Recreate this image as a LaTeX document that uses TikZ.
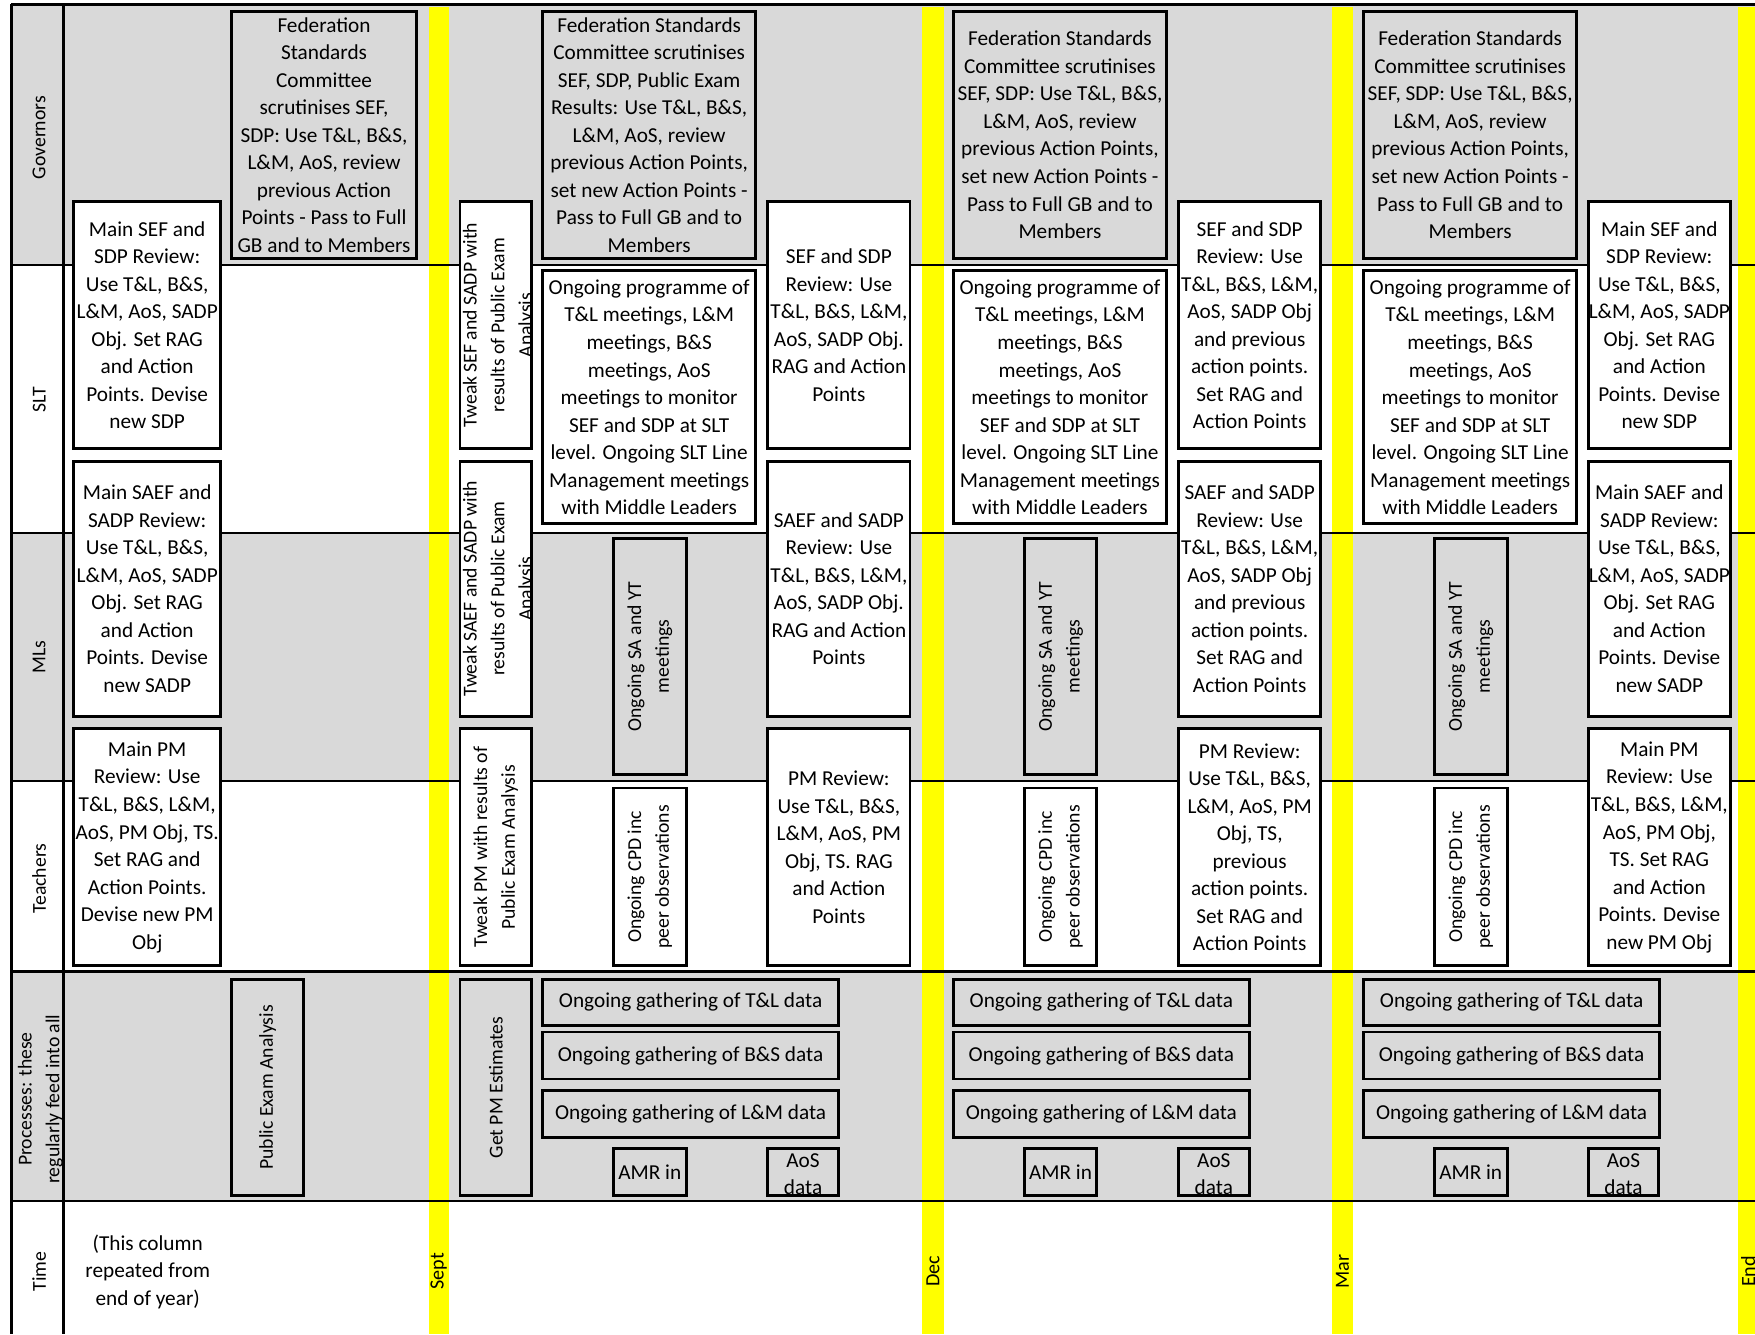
\documentclass[tikz,border=0pt]{standalone}
\usepackage{fontspec}
\setmainfont{Carlito}
\definecolor{rowgray}{RGB}{217,217,217}
\definecolor{bandyellow}{RGB}{255,255,0}
\newcommand\boxfont{\fontsize{9.5}{12.3}\selectfont}
\newcommand\sidefont{\fontsize{8.8}{12.4}\selectfont}
\begin{document}
\begin{tikzpicture}[x=0.5pt, y=-0.5pt,
  cell/.style={draw, line width=1.3pt, inner sep=0pt, align=center, font=\boxfont},
  whitecell/.style={cell, fill=white},
  graycell/.style={cell, fill=rowgray},
  sidecell/.style={rotate=90, font=\sidefont},
  fedbox/.style={graycell, minimum width=95pt, minimum height=110.5pt},
  progbox/.style={whitecell, minimum width=95pt, minimum height=113pt},
  revbox/.style={whitecell, minimum width=63.5pt},
  databox/.style={graycell, minimum width=132pt},
  sidetext/.style={rotate=90, align=center, inner sep=0pt, font=\sidefont},
  rowline/.style={line width=1pt},
  band/.style={fill=bandyellow}]
\useasboundingbox (0,0) rectangle (1568,1192);
% row shading
\fill[rowgray] (10,4) rectangle (1568,237);
\fill[rowgray] (10,476) rectangle (1568,698);
\fill[rowgray] (10,868) rectangle (1568,1073);
% month bands
\fill[band] (383,6) rectangle (401,1192);
\fill[band] (824,6) rectangle (843,1192);
\fill[band] (1190,6) rectangle (1209,1192);
\fill[band] (1553,6) rectangle (1575,1192);
% row labels
\node[sidetext] (lgov) at (35,123) {Governors};
\node[sidetext] (lslt) at (35,357) {SLT};
\node[sidetext] (lmls) at (35,587) {MLs};
\node[sidetext] (lteach) at (35,785) {Teachers};
\node[sidetext] (lproc) at (36,982) {Processes: these\\regularly feed into all};
\node[sidetext] (ltime) at (35,1136) {Time};
% grid
\draw[rowline] (10,4) -- (1568,4);
\draw[rowline] (10,237) -- (1568,237);
\draw[rowline] (10,476) -- (1568,476);
\draw[rowline] (10,698) -- (1568,698);
\draw[rowline] (10,868) -- (1568,868);
\draw[rowline] (10,1073) -- (1568,1073);
\draw[line width=1.2pt] (10,4) -- (10,1192);
\draw[line width=1.2pt] (57,4) -- (57,1192);
% time row
\node[align=center, font=\boxfont] (note) at (132,1136) {(This column\\repeated from\\end of year)};
\node[sidetext, font=\fontsize{9}{11}\selectfont] (msept) at (392,1136) {Sept};
\node[sidetext, font=\fontsize{9}{11}\selectfont] (mdec) at (833.5,1136) {Dec};
\node[sidetext, font=\fontsize{9}{11}\selectfont] (mmar) at (1199.5,1136) {Mar};
\node[sidetext, font=\fontsize{9}{11}\selectfont] (mend) at (1562,1136) {End};
% end of year column
\node[graycell, minimum width=82.5pt, minimum height=110.5pt] (fedA) at (289.5,120.5) {Federation\\Standards\\Committee\\scrutinises SEF,\\SDP: Use T\&L, B\&S,\\L\&M, AoS, review\\previous Action\\Points - Pass to Full\\GB and to Members};
\node[whitecell, minimum width=65.5pt, minimum height=110.5pt] (sefA) at (131.5,290.5) {Main SEF and\\SDP Review:\\Use T\&L, B\&S,\\L\&M, AoS, SADP\\Obj. Set RAG\\and Action\\Points. Devise\\new SDP};
\node[whitecell, minimum width=65.5pt, minimum height=114pt] (saefA) at (131.5,526) {Main SAEF and\\SADP Review:\\Use T\&L, B\&S,\\L\&M, AoS, SADP\\Obj. Set RAG\\and Action\\Points. Devise\\new SADP};
\node[whitecell, minimum width=65.5pt, minimum height=106pt] (pmA) at (131.5,757) {Main PM\\Review: Use\\T\&L, B\&S, L\&M,\\AoS, PM Obj, TS.\\Set RAG and\\Action Points.\\Devise new PM\\Obj};
\node[graycell, sidecell, minimum width=96.5pt, minimum height=32pt] (pubexam) at (239,971.5) {Public Exam Analysis};
% Sept to Dec
\node[whitecell, minimum width=32pt, minimum height=110.5pt,
  path picture={\node[sidetext] at ([xshift=1.5pt]path picture bounding box.center) {Tweak SEF and SADP with\\results of Public Exam\\Analysis};}] (tweaksef) at (443,290.5) {};
\node[whitecell, minimum width=32pt, minimum height=114pt,
  path picture={\node[sidetext] at ([xshift=1.5pt]path picture bounding box.center) {Tweak SAEF and SADP with\\results of Public Exam\\Analysis};}] (tweaksaef) at (443,526) {};
\node[whitecell, sidecell, minimum width=106pt, minimum height=32pt] (tweakpm) at (443,757) {Tweak PM with results of\\Public Exam Analysis};
\node[graycell, sidecell, minimum width=96.5pt, minimum height=32pt] (getpm) at (443,971.5) {Get PM Estimates};
\node[fedbox] (fedB) at (580,120.5) {Federation Standards\\Committee scrutinises\\SEF, SDP, Public Exam\\Results: Use T\&L, B\&S,\\L\&M, AoS, review\\previous Action Points,\\set new Action Points -\\Pass to Full GB and to\\Members};
\node[progbox] (progB) at (580,355) {Ongoing programme of\\T\&L meetings, L\&M\\meetings, B\&S\\meetings, AoS\\meetings to monitor\\SEF and SDP at SLT\\level. Ongoing SLT Line\\Management meetings\\with Middle Leaders};
\node[graycell, sidecell, minimum width=105.5pt, minimum height=32.5pt] (saytB) at (580.5,586.5) {Ongoing SA and YT\\meetings};
\node[whitecell, sidecell, minimum width=79.5pt, minimum height=32.5pt] (cpdB) at (580.5,783.5) {Ongoing CPD inc\\peer observations};
\node[revbox, minimum height=110.5pt] (sefB) at (749.5,290.5) {SEF and SDP\\Review: Use\\T\&L, B\&S, L\&M,\\AoS, SADP Obj.\\RAG and Action\\Points};
\node[revbox, minimum height=114pt] (saefB) at (749.5,526) {SAEF and SADP\\Review: Use\\T\&L, B\&S, L\&M,\\AoS, SADP Obj.\\RAG and Action\\Points};
\node[revbox, minimum height=106pt] (pmB) at (749.5,757) {PM Review:\\Use T\&L, B\&S,\\L\&M, AoS, PM\\Obj, TS. RAG\\and Action\\Points};
\node[databox, minimum height=20.5pt] (tlB) at (617,895.5) {Ongoing gathering of T\&L data};
\node[databox, minimum height=21pt] (bsB) at (617,943) {Ongoing gathering of B\&S data};
\node[databox, minimum height=21pt] (lmB) at (617,995) {Ongoing gathering of L\&M data};
\node[graycell, minimum width=32.5pt, minimum height=21pt] (amrB) at (580.5,1047) {AMR in};
\node[graycell, minimum width=31.5pt, minimum height=21pt,
  path picture={\node[align=center, inner sep=0pt, font=\boxfont] at ([yshift=-1pt]path picture bounding box.center) {AoS\\data};}] (aosB) at (717.5,1047) {};
% Dec to Mar
\node[fedbox] (fedC) at (947,120.5) {Federation Standards\\Committee scrutinises\\SEF, SDP: Use T\&L, B\&S,\\L\&M, AoS, review\\previous Action Points,\\set new Action Points -\\Pass to Full GB and to\\Members};
\node[progbox] (progC) at (947,355) {Ongoing programme of\\T\&L meetings, L\&M\\meetings, B\&S\\meetings, AoS\\meetings to monitor\\SEF and SDP at SLT\\level. Ongoing SLT Line\\Management meetings\\with Middle Leaders};
\node[graycell, sidecell, minimum width=105.5pt, minimum height=32.5pt] (saytC) at (947.5,586.5) {Ongoing SA and YT\\meetings};
\node[whitecell, sidecell, minimum width=79.5pt, minimum height=32.5pt] (cpdC) at (947.5,783.5) {Ongoing CPD inc\\peer observations};
\node[revbox, minimum height=110.5pt] (sefC) at (1116.5,290.5) {SEF and SDP\\Review: Use\\T\&L, B\&S, L\&M,\\AoS, SADP Obj\\and previous\\action points.\\Set RAG and\\Action Points};
\node[revbox, minimum height=114pt] (saefC) at (1116.5,526) {SAEF and SADP\\Review: Use\\T\&L, B\&S, L\&M,\\AoS, SADP Obj\\and previous\\action points.\\Set RAG and\\Action Points};
\node[revbox, minimum height=106pt] (pmC) at (1116.5,757) {PM Review:\\Use T\&L, B\&S,\\L\&M, AoS, PM\\Obj, TS,\\previous\\action points.\\Set RAG and\\Action Points};
\node[databox, minimum height=20.5pt] (tlC) at (984,895.5) {Ongoing gathering of T\&L data};
\node[databox, minimum height=21pt] (bsC) at (984,943) {Ongoing gathering of B\&S data};
\node[databox, minimum height=21pt] (lmC) at (984,995) {Ongoing gathering of L\&M data};
\node[graycell, minimum width=32.5pt, minimum height=21pt] (amrC) at (947.5,1047) {AMR in};
\node[graycell, minimum width=31.5pt, minimum height=21pt,
  path picture={\node[align=center, inner sep=0pt, font=\boxfont] at ([yshift=-1pt]path picture bounding box.center) {AoS\\data};}] (aosC) at (1084.5,1047) {};
% Mar to end
\node[fedbox] (fedD) at (1313.5,120.5) {Federation Standards\\Committee scrutinises\\SEF, SDP: Use T\&L, B\&S,\\L\&M, AoS, review\\previous Action Points,\\set new Action Points -\\Pass to Full GB and to\\Members};
\node[progbox] (progD) at (1313.5,355) {Ongoing programme of\\T\&L meetings, L\&M\\meetings, B\&S\\meetings, AoS\\meetings to monitor\\SEF and SDP at SLT\\level. Ongoing SLT Line\\Management meetings\\with Middle Leaders};
\node[graycell, sidecell, minimum width=105.5pt, minimum height=32.5pt] (saytD) at (1314,586.5) {Ongoing SA and YT\\meetings};
\node[whitecell, sidecell, minimum width=79.5pt, minimum height=32.5pt] (cpdD) at (1314,783.5) {Ongoing CPD inc\\peer observations};
\node[revbox, minimum height=110.5pt] (sefD) at (1482.5,290.5) {Main SEF and\\SDP Review:\\Use T\&L, B\&S,\\L\&M, AoS, SADP\\Obj. Set RAG\\and Action\\Points. Devise\\new SDP};
\node[revbox, minimum height=114pt] (saefD) at (1482.5,526) {Main SAEF and\\SADP Review:\\Use T\&L, B\&S,\\L\&M, AoS, SADP\\Obj. Set RAG\\and Action\\Points. Devise\\new SADP};
\node[revbox, minimum height=106pt] (pmD) at (1482.5,757) {Main PM\\Review: Use\\T\&L, B\&S, L\&M,\\AoS, PM Obj,\\TS. Set RAG\\and Action\\Points. Devise\\new PM Obj};
\node[databox, minimum height=20.5pt] (tlD) at (1350.5,895.5) {Ongoing gathering of T\&L data};
\node[databox, minimum height=21pt] (bsD) at (1350.5,943) {Ongoing gathering of B\&S data};
\node[databox, minimum height=21pt] (lmD) at (1350.5,995) {Ongoing gathering of L\&M data};
\node[graycell, minimum width=32.5pt, minimum height=21pt] (amrD) at (1314,1047) {AMR in};
\node[graycell, minimum width=31.5pt, minimum height=21pt,
  path picture={\node[align=center, inner sep=0pt, font=\boxfont] at ([yshift=-1pt]path picture bounding box.center) {AoS\\data};}] (aosD) at (1450.5,1047) {};
\end{tikzpicture}
\end{document}
